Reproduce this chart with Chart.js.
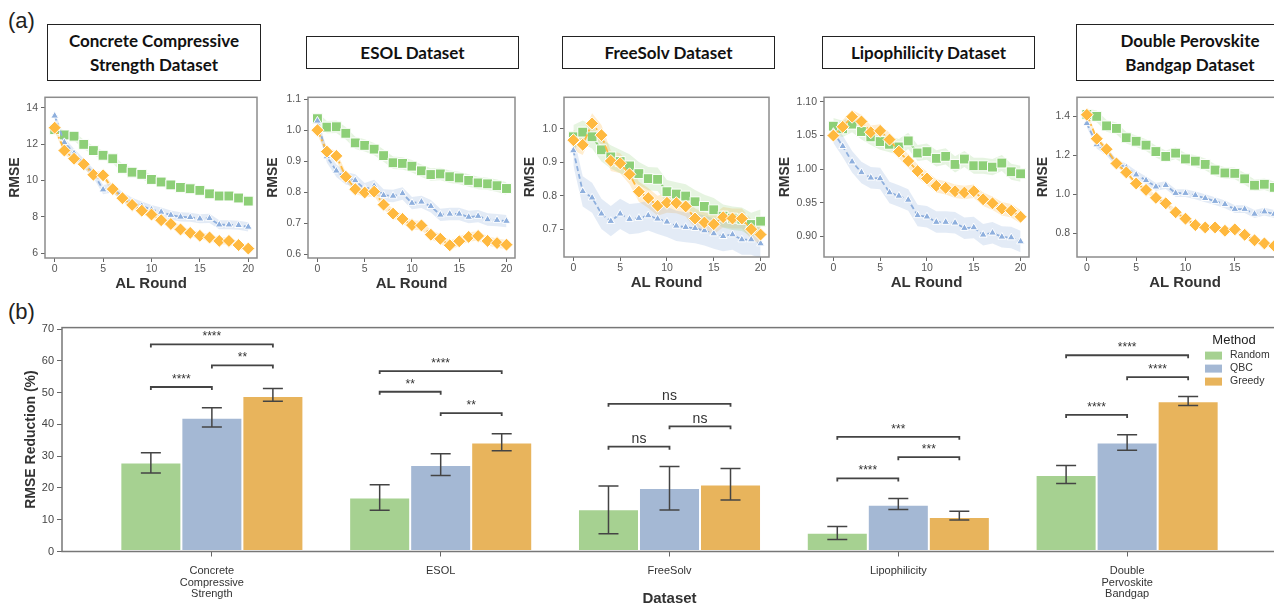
<!DOCTYPE html>
<html>
<head>
<meta charset="utf-8">
<script src="https://cdn.jsdelivr.net/npm/chart.js@4.4.1/dist/chart.umd.min.js"></script>
<style>
  body { margin: 0; width: 1274px; height: 608px; overflow: hidden; background: #fff; position: relative; font-family: "Liberation Sans", Arial, sans-serif; }
  canvas { position: absolute; }
  .box { position: absolute; box-sizing: border-box; border: 1.5px solid #222; background: #fff;
         font-family: Lato, "Open Sans", sans-serif; font-weight: 700; font-size: 17px; color: #111;
         display: flex; align-items: center; justify-content: center; text-align: center; line-height: 1.4; }
  .tag { position: absolute; font-size: 22px; color: #222; }
</style>
</head>
<body>
<div class="tag" style="left:8px;top:8px">(a)</div>
<div class="tag" style="left:8px;top:299px">(b)</div>
<div class="box" style="left:47px;top:24px;width:214px;height:57px">Concrete Compressive<br>Strength Dataset</div>
<div class="box" style="left:306px;top:36px;width:213px;height:33px">ESOL Dataset</div>
<div class="box" style="left:562px;top:36px;width:213px;height:33px">FreeSolv Dataset</div>
<div class="box" style="left:822px;top:36px;width:213px;height:33px">Lipophilicity Dataset</div>
<div class="box" style="left:1076px;top:24px;width:228px;height:57px">Double Perovskite<br>Bandgap Dataset</div>

<script>
// ---- (a) RMSE per AL round ----
const rounds = [0, 1, 2, 3, 4, 5, 6, 7, 8, 9, 10, 11, 12, 13, 14, 15, 16, 17, 18, 19, 20];

const concreteRandom = [12.8, 12.51, 12.44, 11.99, 11.65, 11.39, 11.2, 10.67, 10.46, 10.34, 10.06, 9.92, 9.76, 9.62, 9.55, 9.46, 9.27, 9.15, 9.15, 9.04, 8.87];
const concreteQbc    = [13.56, 12.1, 11.5, 10.95, 10.4, 9.5, 9.6, 9.1, 8.8, 8.6, 8.4, 8.27, 8.1, 8.0, 7.98, 7.9, 7.92, 7.57, 7.57, 7.54, 7.45];
const concreteGreedy = [12.91, 11.65, 11.2, 10.9, 10.32, 10.29, 9.53, 9.03, 8.66, 8.34, 8.13, 7.82, 7.61, 7.31, 7.12, 6.96, 6.87, 6.68, 6.68, 6.45, 6.26];

const esolRandom = [1.037, 1.010, 1.011, 0.990, 0.959, 0.951, 0.939, 0.918, 0.895, 0.893, 0.884, 0.869, 0.857, 0.859, 0.850, 0.846, 0.838, 0.830, 0.827, 0.821, 0.812];
const esolQbc    = [1.03, 0.915, 0.869, 0.845, 0.838, 0.81, 0.82, 0.79, 0.788, 0.796, 0.765, 0.769, 0.755, 0.727, 0.73, 0.730, 0.72, 0.723, 0.712, 0.710, 0.707];
const esolGreedy = [1.0, 0.931, 0.917, 0.85, 0.81, 0.799, 0.802, 0.760, 0.731, 0.714, 0.694, 0.693, 0.663, 0.650, 0.629, 0.642, 0.656, 0.659, 0.643, 0.636, 0.631];

const freesolvRandom = [0.976, 0.99, 0.976, 0.937, 0.916, 0.902, 0.889, 0.866, 0.851, 0.849, 0.812, 0.805, 0.799, 0.782, 0.768, 0.758, 0.739, 0.733, 0.73, 0.714, 0.724];
const freesolvQbc    = [0.935, 0.813, 0.794, 0.746, 0.724, 0.746, 0.730, 0.733, 0.741, 0.731, 0.722, 0.710, 0.706, 0.703, 0.696, 0.687, 0.679, 0.684, 0.669, 0.669, 0.657];
const freesolvGreedy = [0.966, 0.952, 1.016, 0.981, 0.904, 0.897, 0.864, 0.812, 0.793, 0.770, 0.779, 0.778, 0.768, 0.732, 0.720, 0.715, 0.736, 0.732, 0.732, 0.700, 0.684];

const lipoRandom = [1.064, 1.06, 1.067, 1.056, 1.048, 1.041, 1.037, 1.033, 1.042, 1.024, 1.026, 1.016, 1.019, 1.007, 1.015, 1.005, 1.005, 1.003, 1.009, 0.996, 0.993];
const lipoQbc    = [1.055, 1.034, 1.011, 0.995, 0.987, 0.986, 0.965, 0.960, 0.954, 0.931, 0.929, 0.921, 0.921, 0.920, 0.912, 0.913, 0.902, 0.905, 0.899, 0.898, 0.892];
const lipoGreedy = [1.05, 1.063, 1.078, 1.071, 1.055, 1.057, 1.044, 1.026, 1.012, 0.997, 0.986, 0.975, 0.972, 0.967, 0.965, 0.967, 0.955, 0.949, 0.941, 0.938, 0.929];

const perovRandom = [1.41, 1.40, 1.351, 1.338, 1.29, 1.272, 1.252, 1.219, 1.194, 1.211, 1.181, 1.17, 1.153, 1.124, 1.109, 1.107, 1.079, 1.046, 1.051, 1.035, 1.03];
const perovQbc    = [1.364, 1.255, 1.219, 1.161, 1.137, 1.1, 1.071, 1.038, 1.046, 1.005, 1.005, 0.994, 0.979, 0.964, 0.948, 0.923, 0.923, 0.898, 0.91, 0.898, 0.895];
const perovGreedy = [1.408, 1.285, 1.231, 1.158, 1.112, 1.055, 1.022, 0.981, 0.953, 0.907, 0.874, 0.841, 0.829, 0.829, 0.812, 0.819, 0.791, 0.763, 0.747, 0.734, 0.73];

// half width of the shaded band, per method (Random, QBC, Greedy)
const concreteBand = [0.25, 0.25, 0.2];
const esolBand = [0.02, 0.02, 0.015];
const freesolvBand = [0.035, 0.045, 0.03];
const lipoBand = [0.012, 0.016, 0.01];
const perovBand = [0.03, 0.02, 0.015];

const concreteTicks = [6, 8, 10, 12, 14];
const esolTicks = [0.6, 0.7, 0.8, 0.9, 1.0, 1.1];
const freesolvTicks = [0.7, 0.8, 0.9, 1.0];
const lipoTicks = [0.90, 0.95, 1.00, 1.05, 1.10];
const perovTicks = [0.8, 1.0, 1.2, 1.4];
const roundTicks = [0, 5, 10, 15, 20];

// ---- (b) RMSE reduction bars ----
const categories = [["Concrete", "Compressive", "Strength"], ["ESOL"], ["FreeSolv"], ["Lipophilicity"], ["Double", "Pervoskite", "Bandgap"]];
const methods = ["Random", "QBC", "Greedy"];
const randomMean = [28.0, 17.0, 13.3, 5.9, 24.1];
const randomLow  = [24.7, 13.0, 5.6, 3.8, 21.4];
const randomHigh = [31.1, 21.0, 20.6, 7.9, 27.1];
const qbcMean = [42.1, 27.2, 20.0, 14.7, 34.3];
const qbcLow  = [39.2, 23.9, 13.1, 13.2, 31.9];
const qbcHigh = [45.3, 30.8, 26.8, 16.7, 36.8];
const greedyMean = [49.0, 34.3, 21.1, 10.9, 47.3];
const greedyLow  = [47.3, 31.7, 16.2, 9.9, 46.0];
const greedyHigh = [51.3, 37.1, 26.1, 12.7, 48.8];
const reductionTicks = [0, 10, 20, 30, 40, 50, 60, 70];

// significance brackets: [dataset, from method, to method, height, label]
const brackets = [
    [0, 0, 1, 51.8, "****"], [0, 1, 2, 58.6, "**"], [0, 0, 2, 65.2, "****"],
    [1, 0, 1, 50.3, "**"], [1, 1, 2, 43.6, "**"], [1, 0, 2, 56.8, "****"],
    [2, 0, 1, 33.0, "ns"], [2, 1, 2, 39.4, "ns"], [2, 0, 2, 46.5, "ns"],
    [3, 0, 1, 23.0, "****"], [3, 1, 2, 29.7, "***"], [3, 0, 2, 36.1, "***"],
    [4, 0, 1, 43.0, "****"], [4, 1, 2, 54.9, "****"], [4, 0, 2, 61.8, "****"],
];

const FONT = '"Liberation Sans", Arial, sans-serif';
const NARROW = '"Liberation Sans Narrow", "Liberation Sans", Arial, sans-serif';
Chart.defaults.font.family = FONT;

const lineColors = ["#8dcf77", "#8eafdd", "#ffb93f"];
const bandColors = ["rgba(141,207,119,0.22)", "rgba(142,175,221,0.25)", "rgba(255,185,63,0.25)"];
const barColors = ["#a6d191", "#a4b8d4", "#e8b45c"];

// draws a box around the plotting area
const frameBox = {
    id: "frameBox",
    afterDraw(chart, args, opts) {
        const {ctx, chartArea: a} = chart;
        ctx.save();
        ctx.strokeStyle = opts.color || "#888";
        ctx.lineWidth = opts.width || 1.5;
        ctx.strokeRect(a.left, a.top, a.right - a.left, a.bottom - a.top);
        ctx.restore();
    }
};

function makeCanvas(left, top, w, h) {
    const cv = document.createElement("canvas");
    cv.width = w;
    cv.height = h;
    cv.style.left = left + "px";
    cv.style.top = top + "px";
    document.body.appendChild(cv);
    return cv;
}

const panels = [
    {frame: [45, 261, 90, 258], yw: 42, yMin: 5.74, yMax: 14.58, ticks: concreteTicks, dec: 0, series: [concreteRandom, concreteQbc, concreteGreedy], band: concreteBand},
    {frame: [308, 519, 90, 258], yw: 47, yMin: 0.588, yMax: 1.106, ticks: esolTicks, dec: 1, series: [esolRandom, esolQbc, esolGreedy], band: esolBand},
    {frame: [564, 773, 90, 257], yw: 46, yMin: 0.617, yMax: 1.094, ticks: freesolvTicks, dec: 1, series: [freesolvRandom, freesolvQbc, freesolvGreedy], band: freesolvBand},
    {frame: [824, 1033, 90, 257], yw: 51, yMin: 0.869, yMax: 1.107, ticks: lipoTicks, dec: 2, series: [lipoRandom, lipoQbc, lipoGreedy], band: lipoBand},
    {frame: [1077, 1297, 90, 257], yw: 46, yMin: 0.677, yMax: 1.498, ticks: perovTicks, dec: 1, series: [perovRandom, perovQbc, perovGreedy], band: perovBand},
];

const markerStyle = [
    {pointStyle: "rect", pointRadius: 7, borderDash: []},
    {pointStyle: "triangle", pointRadius: 4.5, borderDash: [5, 3]},
    {pointStyle: "rectRot", pointRadius: 6.5, borderDash: [7, 3, 2, 3]},
];

function renderPanel(p) {
    const [fl, fr, ft, fb] = p.frame;
    const xh = 39;
    const cv = makeCanvas(fl - p.yw, ft - 2, p.yw + (fr - fl) + 4, 2 + (fb - ft) + xh);

    const lines = [];
    const bands = [];
    // index 0 is drawn on top, so Greedy goes first
    [2, 1, 0].forEach(m => {
        const values = p.series[m];
        lines.push({
            data: rounds.map((r, i) => ({x: r, y: values[i]})),
            borderColor: lineColors[m],
            borderWidth: 1.8,
            borderDash: markerStyle[m].borderDash,
            pointStyle: markerStyle[m].pointStyle,
            pointRadius: markerStyle[m].pointRadius,
            pointBackgroundColor: lineColors[m],
            pointBorderColor: "#fff",
            pointBorderWidth: 1,
            tension: 0,
            fill: false,
        });
    });
    [0, 1, 2].forEach(m => {
        const values = p.series[m];
        const hw = p.band[m];
        bands.push({
            data: rounds.map((r, i) => ({x: r, y: values[i] + hw})),
            borderWidth: 0, pointRadius: 0, fill: false,
        });
        bands.push({
            data: rounds.map((r, i) => ({x: r, y: values[i] - hw})),
            borderWidth: 0, pointRadius: 0, fill: "-1", backgroundColor: bandColors[m],
        });
    });

    new Chart(cv, {
        type: "line",
        data: {datasets: lines.concat(bands)},
        plugins: [frameBox],
        options: {
            responsive: false,
            animation: false,
            events: [],
            layout: {padding: {top: 2, right: 4, left: 0, bottom: 0}},
            plugins: {
                legend: {display: false},
                tooltip: {enabled: false},
                frameBox: {color: "#8c8c8c", width: 1.5},
            },
            scales: {
                x: {
                    type: "linear", min: -1, max: 20.9,
                    afterBuildTicks: s => { s.ticks = roundTicks.map(v => ({value: v})); },
                    afterFit: s => { s.height = xh; },
                    grid: {drawOnChartArea: false, tickLength: 4, color: "#666"},
                    border: {display: false},
                    ticks: {font: {size: 10.5}, color: "#555", padding: 1, maxRotation: 0, autoSkip: false},
                    title: {display: true, text: "AL Round", font: {size: 15, weight: "bold"}, color: "#333", padding: {top: 0, bottom: 4}},
                },
                y: {
                    type: "linear", min: p.yMin, max: p.yMax,
                    afterBuildTicks: s => { s.ticks = p.ticks.map(v => ({value: v})); },
                    afterFit: s => { s.width = p.yw; },
                    grid: {drawOnChartArea: false, tickLength: 4, color: "#666"},
                    border: {display: false},
                    ticks: {font: {size: 10.5}, color: "#555", padding: 3, autoSkip: false, callback: v => Number(v).toFixed(p.dec)},
                    title: {display: true, text: "RMSE", font: {size: 14, weight: "bold"}, color: "#333", padding: {top: 4, bottom: 0}},
                },
            },
        },
    });
}

panels.forEach(renderPanel);

// error bars, significance brackets and legend for (b)
const barExtras = {
    id: "barExtras",
    afterDatasetsDraw(chart) {
        const {ctx, chartArea: a} = chart;
        const y = chart.scales.y;
        const lows = [randomLow, qbcLow, greedyLow];
        const highs = [randomHigh, qbcHigh, greedyHigh];
        ctx.save();
        ctx.strokeStyle = "#444";
        ctx.lineWidth = 1.5;
        lows.forEach((low, d) => {
            chart.getDatasetMeta(d).data.forEach((bar, i) => {
                const x = bar.x;
                const y1 = y.getPixelForValue(low[i]);
                const y2 = y.getPixelForValue(highs[d][i]);
                ctx.beginPath();
                ctx.moveTo(x, y1); ctx.lineTo(x, y2);
                ctx.moveTo(x - 10, y1); ctx.lineTo(x + 10, y1);
                ctx.moveTo(x - 10, y2); ctx.lineTo(x + 10, y2);
                ctx.stroke();
            });
        });

        ctx.lineWidth = 1.8;
        ctx.fillStyle = "#333";
        ctx.textAlign = "center";
        ctx.textBaseline = "alphabetic";
        brackets.forEach(([cat, m1, m2, h, label]) => {
            const x1 = chart.getDatasetMeta(m1).data[cat].x;
            const x2 = chart.getDatasetMeta(m2).data[cat].x;
            const yp = y.getPixelForValue(h);
            ctx.beginPath();
            ctx.moveTo(x1, yp + 3); ctx.lineTo(x1, yp); ctx.lineTo(x2, yp); ctx.lineTo(x2, yp + 3);
            ctx.stroke();
            if (label === "ns") {
                ctx.font = "14px " + NARROW;
                ctx.fillText(label, (x1 + x2) / 2, yp - 3.5);
            } else {
                ctx.font = "12px " + FONT;
                ctx.fillText(label, (x1 + x2) / 2, yp - 4);
            }
        });

        // legend
        ctx.textAlign = "center";
        ctx.textBaseline = "middle";
        ctx.font = "13px " + NARROW;
        ctx.fillStyle = "#222";
        ctx.fillText("Method", a.right - 43, a.top + 13);
        ctx.textAlign = "left";
        ctx.font = "10.5px " + NARROW;
        methods.forEach((name, m) => {
            const cy = a.top + 28 + m * 13;
            ctx.fillStyle = barColors[m];
            ctx.fillRect(a.right - 72, cy - 4, 17, 8);
            ctx.fillStyle = "#333";
            ctx.fillText(name, a.right - 47, cy);
        });
        ctx.restore();
    }
};

const barMeans = [randomMean, qbcMean, greedyMean];
const barCanvas = makeCanvas(2, 318, 1275, 290);
new Chart(barCanvas, {
    type: "bar",
    data: {
        datasets: methods.map((name, m) => ({
            label: name,
            data: categories.map((c, i) => ({x: i, y: barMeans[m][i]})),
            backgroundColor: barColors[m],
            borderColor: "#fff",
            borderWidth: 1,
            borderSkipped: false,
            categoryPercentage: 0.8,
            barPercentage: 1.0,
        })),
    },
    plugins: [frameBox, barExtras],
    options: {
        responsive: false,
        animation: false,
        events: [],
        layout: {padding: {top: 5, right: 0, left: 0, bottom: 0}},
        plugins: {
            legend: {display: false},
            tooltip: {enabled: false},
            frameBox: {color: "#777", width: 1.5},
        },
        scales: {
            x: {
                type: "linear", min: -0.655, max: 4.655, offset: false,
                afterBuildTicks: s => { s.ticks = categories.map((c, i) => ({value: i})); },
                afterFit: s => { s.height = 56.5; },
                grid: {drawOnChartArea: false, offset: false, tickLength: 5, color: "#666"},
                border: {display: false},
                ticks: {font: {size: 11, family: NARROW, lineHeight: 1.05}, color: "#333", padding: 9, maxRotation: 0, autoSkip: false,
                        callback: v => categories[v]},
                title: {display: true, text: "Dataset", font: {size: 15, weight: "bold"}, color: "#333", padding: {top: 0, bottom: 0}},
            },
            y: {
                min: 0, max: 70.5,
                afterBuildTicks: s => { s.ticks = reductionTicks.map(v => ({value: v})); },
                afterFit: s => { s.width = 60; },
                grid: {drawOnChartArea: false, tickLength: 5, color: "#666"},
                border: {display: false},
                ticks: {font: {size: 11, family: NARROW}, color: "#444", padding: 3, autoSkip: false},
                title: {display: true, text: "RMSE Reduction (%)", font: {size: 14, weight: "bold"}, color: "#333", padding: {top: 21, bottom: 0}},
            },
        },
    },
});
</script>
</body>
</html>
